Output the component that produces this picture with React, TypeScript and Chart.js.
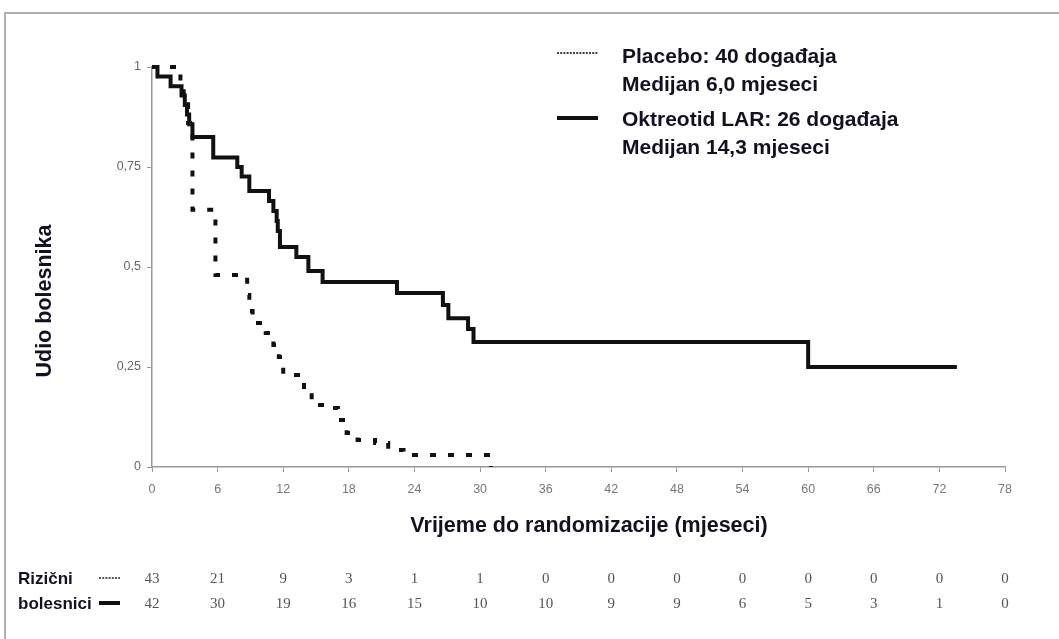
import { useEffect, useRef } from "react";
import { Chart, registerables } from "chart.js";

Chart.register(...registerables);

// Kaplan-Meier step data (time in months, proportion of patients)
const placeboTimes = [0, 2.6, 2.9, 3.1, 3.3, 3.5, 3.7, 5.8, 8.7, 8.9, 9.2, 10.4, 11.1, 11.6, 12.0, 13.9, 14.6, 16.1, 17.0, 17.8, 18.8, 20.4, 21.6, 23.0, 31.0];
const placeboSurv = [1, 0.953, 0.93, 0.907, 0.86, 0.837, 0.643, 0.48, 0.43, 0.39, 0.36, 0.335, 0.305, 0.275, 0.23, 0.185, 0.155, 0.1475, 0.1175, 0.085, 0.0675, 0.06, 0.0425, 0.03, 0.0];

const octTimes = [0, 0.5, 1.7, 2.7, 3.0, 3.2, 3.4, 3.7, 5.6, 7.8, 8.2, 8.9, 10.7, 11.1, 11.4, 11.5, 11.7, 13.2, 14.3, 15.6, 22.4, 26.6, 27.1, 28.9, 29.4, 60.0, 73.6];
const octSurv = [1, 0.976, 0.952, 0.929, 0.905, 0.881, 0.857, 0.825, 0.774, 0.75, 0.726, 0.69, 0.665, 0.64, 0.615, 0.59, 0.55, 0.525, 0.49, 0.4625, 0.435, 0.405, 0.372, 0.345, 0.3125, 0.25, 0.25];

// Risk table
const riskTimes = [0, 6, 12, 18, 24, 30, 36, 42, 48, 54, 60, 66, 72, 78];
const placeboAtRisk = [43, 21, 9, 3, 1, 1, 0, 0, 0, 0, 0, 0, 0, 0];
const octAtRisk = [42, 30, 19, 16, 15, 10, 10, 9, 9, 6, 5, 3, 1, 0];

// Text
const legendPlacebo = ["Placebo: 40 događaja", "Medijan 6,0 mjeseci"];
const legendOct = ["Oktreotid LAR: 26 događaja", "Medijan 14,3 mjeseci"];
const xTitle = "Vrijeme do randomizacije (mjeseci)";
const yTitle = "Udio bolesnika";
const riskLabels = ["Rizični", "bolesnici"];

const W = 1059;
const H = 639;
const TEXT = "#111122";
const SANS = "'Liberation Sans', Arial, sans-serif";
const SERIF = "'Liberation Serif', 'Times New Roman', serif";

const decorPlugin = {
  id: "decor",
  afterDraw(chart: any) {
    const ctx = chart.ctx as CanvasRenderingContext2D;
    const xs = chart.scales.x;
    ctx.save();
    // frame
    ctx.strokeStyle = "#b0b0b0";
    ctx.lineWidth = 2;
    ctx.beginPath();
    ctx.moveTo(5, H + 5);
    ctx.lineTo(5, 13);
    ctx.lineTo(W + 5, 13);
    ctx.stroke();

    // legend
    ctx.fillStyle = TEXT;
    ctx.font = `bold 21px ${SANS}`;
    ctx.textBaseline = "middle";
    ctx.textAlign = "left";
    ctx.fillText(legendPlacebo[0], 622, 57);
    ctx.fillText(legendPlacebo[1], 622, 85);
    ctx.fillText(legendOct[0], 622, 120);
    ctx.fillText(legendOct[1], 622, 148);
    ctx.strokeStyle = "#444";
    ctx.lineWidth = 2;
    ctx.setLineDash([2, 1.2]);
    ctx.beginPath();
    ctx.moveTo(557, 53);
    ctx.lineTo(598, 53);
    ctx.stroke();
    ctx.setLineDash([]);
    ctx.strokeStyle = "#111";
    ctx.lineWidth = 4;
    ctx.beginPath();
    ctx.moveTo(557, 118);
    ctx.lineTo(598, 118);
    ctx.stroke();

    // axis titles
    ctx.fillStyle = TEXT;
    ctx.font = `bold 21.5px ${SANS}`;
    ctx.textAlign = "center";
    ctx.fillText(xTitle, 589, 526);
    ctx.save();
    ctx.translate(45, 301);
    ctx.rotate(-Math.PI / 2);
    ctx.fillText(yTitle, 0, 0);
    ctx.restore();

    // risk table
    ctx.textAlign = "left";
    ctx.font = `bold 17px ${SANS}`;
    ctx.fillText(riskLabels[0], 18, 579);
    ctx.fillText(riskLabels[1], 18, 604);
    ctx.strokeStyle = "#555";
    ctx.lineWidth = 2;
    ctx.setLineDash([2, 1.2]);
    ctx.beginPath();
    ctx.moveTo(99, 578);
    ctx.lineTo(120, 578);
    ctx.stroke();
    ctx.setLineDash([]);
    ctx.strokeStyle = "#111";
    ctx.lineWidth = 4;
    ctx.beginPath();
    ctx.moveTo(99, 603);
    ctx.lineTo(120, 603);
    ctx.stroke();

    ctx.fillStyle = "#555";
    ctx.font = `15px ${SERIF}`;
    ctx.textAlign = "center";
    riskTimes.forEach((t, i) => {
      const px = xs.getPixelForValue(t);
      ctx.fillText(String(placeboAtRisk[i]), px, 579);
      ctx.fillText(String(octAtRisk[i]), px, 604);
    });
    ctx.restore();
  },
};

export default function App() {
  const ref = useRef<HTMLCanvasElement | null>(null);
  useEffect(() => {
    if (!ref.current) return;
    const chart = new Chart(ref.current, {
      type: "line",
      data: {
        datasets: [
          {
            label: "Placebo",
            data: placeboTimes.map((t, i) => ({ x: t, y: placeboSurv[i] })),
            borderColor: "#111",
            borderWidth: 4,
            borderDash: [6, 12],
            stepped: "before",
            pointRadius: 0,
            fill: false,
            clip: false as any,
          },
          {
            label: "Oktreotid LAR",
            data: octTimes.map((t, i) => ({ x: t, y: octSurv[i] })),
            borderColor: "#111",
            borderWidth: 4,
            stepped: "before",
            pointRadius: 0,
            fill: false,
            clip: false as any,
          },
        ],
      },
      options: {
        responsive: false,
        animation: false,
        layout: { padding: { left: 0, top: 67, right: 54, bottom: 142 } },
        plugins: { legend: { display: false }, tooltip: { enabled: false } },
        scales: {
          x: {
            type: "linear",
            min: 0,
            max: 78,
            afterFit: (s: any) => {
              s.height = 30;
            },
            border: { color: "#999", width: 1.5 },
            grid: { drawOnChartArea: false, drawTicks: true, tickLength: 5, color: "#999" },
            ticks: {
              stepSize: 6,
              autoSkip: false,
              maxRotation: 0,
              padding: 10,
              color: "#777",
              font: { family: SANS, size: 12.5 },
            },
          },
          y: {
            type: "linear",
            min: 0,
            max: 1,
            afterFit: (s: any) => {
              s.width = 152;
            },
            border: { color: "#999", width: 1.5 },
            grid: { drawOnChartArea: false, drawTicks: true, tickLength: 5, color: "#999" },
            ticks: {
              stepSize: 0.25,
              padding: 6,
              color: "#666",
              font: { family: SANS, size: 12.5 },
              callback: (v: any) => String(v).replace(".", ","),
            },
          },
        },
      },
      plugins: [decorPlugin],
    });
    return () => chart.destroy();
  }, []);
  return (
    <div style={{ position: "absolute", left: 0, top: 0, width: W, height: H, background: "#fff" }}>
      <canvas ref={ref} width={W} height={H} style={{ width: W, height: H, display: "block" }} />
    </div>
  );
}
